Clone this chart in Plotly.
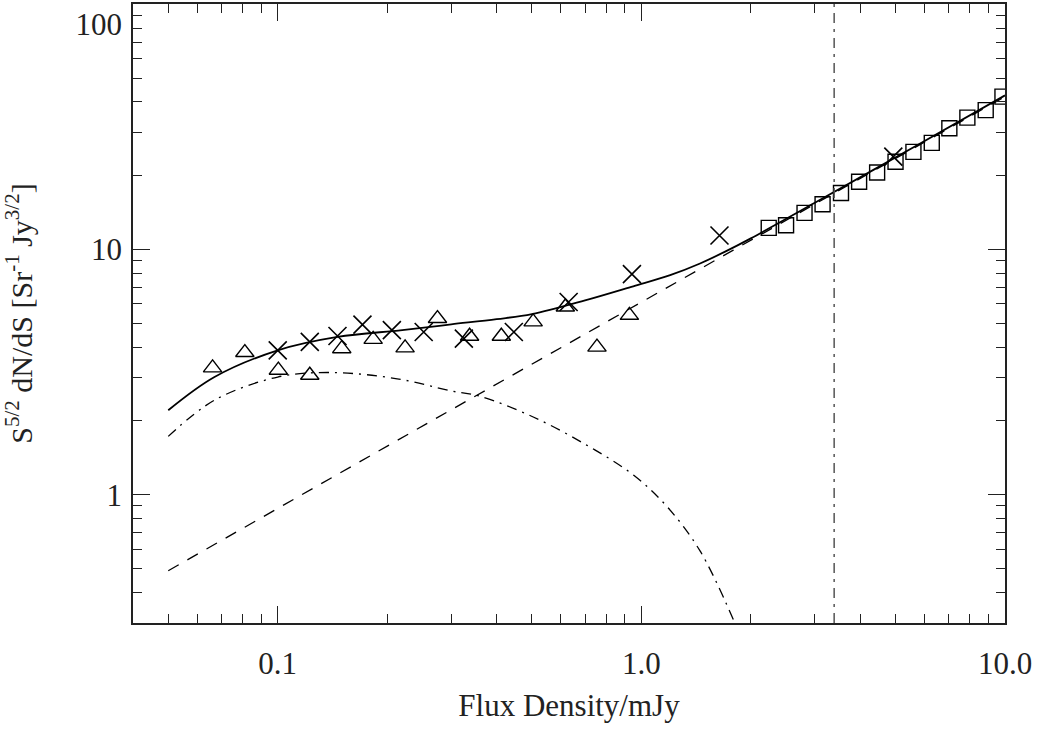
import plotly.graph_objects as go

# --- data ---
cross_x = [0.100, 0.1225, 0.146, 0.171, 0.206, 0.252, 0.325, 0.446, 0.631, 0.942, 1.64, 4.93]
cross_y = [3.88, 4.20, 4.44, 4.94, 4.69, 4.61, 4.33, 4.61, 6.11, 7.93, 11.4, 23.9]

tri_x = [0.0662, 0.0812, 0.1004, 0.1225, 0.150, 0.183, 0.224, 0.275, 0.337, 0.412,
         0.504, 0.618, 0.755, 0.927]
tri_y = [3.29, 3.80, 3.22, 3.07, 3.94, 4.30, 3.97, 5.23, 4.43, 4.43,
         5.07, 5.83, 4.00, 5.39]

sq_x = [2.24, 2.50, 2.81, 3.15, 3.54, 3.97, 4.45, 5.00, 5.60, 6.29, 7.03, 7.88, 8.85, 9.84]
sq_y = [12.25, 12.56, 14.1, 15.3, 17.0, 18.9, 20.6, 22.8, 25.0, 27.2, 31.2, 34.5, 37.0, 42.0]

total_x = [0.05, 0.067, 0.1, 0.146, 0.22, 0.3, 0.4, 0.5, 0.7, 0.95, 1.2, 1.45, 1.7, 2.0, 3.0, 5.7, 10.0]
total_y = [2.21, 3.02, 3.88, 4.40, 4.69, 4.95, 5.2, 5.45, 6.2, 7.08, 7.86, 8.77, 9.8, 11.1, 15.5, 26.5, 42.5]

agn_x = [0.05, 0.1, 0.257, 1.79, 10.0]
agn_y = [0.49, 0.88, 1.95, 9.94, 42.0]

sf_x = [0.05, 0.067, 0.1, 0.14, 0.213, 0.30, 0.36, 0.506, 0.709, 0.953, 1.18, 1.45, 1.79]
sf_y = [1.73, 2.43, 3.02, 3.15, 2.97, 2.65, 2.52, 2.07, 1.59, 1.20, 0.89, 0.59, 0.31]

vline_x = 3.39

x_tickvals = [0.1, 1.0, 10.0]
x_ticktext = ["0.1", "1.0", "10.0"]
y_tickvals = [1, 10, 100]
y_ticktext = ["1", "10", "<br>100"]

FONT = "Liberation Serif"
TXT = "#222222"

fig = go.Figure()

fig.add_trace(go.Scatter(x=sf_x, y=sf_y, mode="lines", line_shape="spline",
                         line=dict(color="black", width=1.3, dash="10px,6px,2px,6px"),
                         showlegend=False))
fig.add_trace(go.Scatter(x=agn_x, y=agn_y, mode="lines",
                         line=dict(color="black", width=1.3, dash="12px,10px"),
                         showlegend=False))
fig.add_trace(go.Scatter(x=total_x, y=total_y, mode="lines", line_shape="spline",
                         line=dict(color="black", width=1.8),
                         showlegend=False))
fig.add_trace(go.Scatter(x=tri_x, y=tri_y, mode="markers",
                         marker=dict(symbol="triangle-up-open", size=16, color="black",
                                     line=dict(width=1.4, color="black")),
                         showlegend=False))
fig.add_trace(go.Scatter(x=cross_x, y=cross_y, mode="markers",
                         marker=dict(symbol="x-thin-open", size=18, color="black",
                                     line=dict(width=1.6, color="black")),
                         showlegend=False))
fig.add_trace(go.Scatter(x=sq_x, y=sq_y, mode="markers",
                         marker=dict(symbol="square-open", size=15, color="black",
                                     line=dict(width=1.4, color="black")),
                         showlegend=False))

fig.add_shape(type="line", xref="x", yref="paper", x0=vline_x, x1=vline_x, y0=0, y1=1,
              line=dict(color="#555555", width=1.5, dash="10px,6px,3px,6px"))

axis_common = dict(
    showline=True, linecolor="#222222", linewidth=1.5, mirror="allticks",
    ticks="inside", ticklen=17, tickwidth=1.3, tickcolor="#222222",
    showgrid=False, zeroline=False, automargin=False,
    tickfont=dict(family=FONT, size=31, color=TXT),
)

fig.update_xaxes(type="log", range=[-1.398, 1.0],
                 tickvals=x_tickvals, ticktext=x_ticktext,
                 ticklabelstandoff=12,
                 minor=dict(ticks="inside", ticklen=9, tickwidth=1.2, tickcolor="#222222",
                            dtick="D1", showgrid=False),
                 title=dict(text="Flux Density/mJy", font=dict(family=FONT, size=31, color=TXT),
                            standoff=14),
                 **axis_common)
fig.update_yaxes(type="log", range=[-0.523, 2.001],
                 tickvals=y_tickvals, ticktext=y_ticktext,
                 ticklabelstandoff=3,
                 minor=dict(ticks="inside", ticklen=9, tickwidth=1.2, tickcolor="#222222",
                            dtick="D1", showgrid=False),
                 title=dict(text="S<sup>5/2</sup> dN/dS [Sr<sup>-1</sup> Jy<sup>3/2</sup>]",
                            font=dict(family=FONT, size=30, color=TXT), standoff=34),
                 **axis_common)

fig.update_layout(width=1037, height=729,
                  margin=dict(l=133, r=32, t=4, b=106),
                  plot_bgcolor="white", paper_bgcolor="white")

fig.write_html("out.html", config={"displayModeBar": False},
               post_script="document.body.style.margin='0';document.body.style.overflow='hidden';")
